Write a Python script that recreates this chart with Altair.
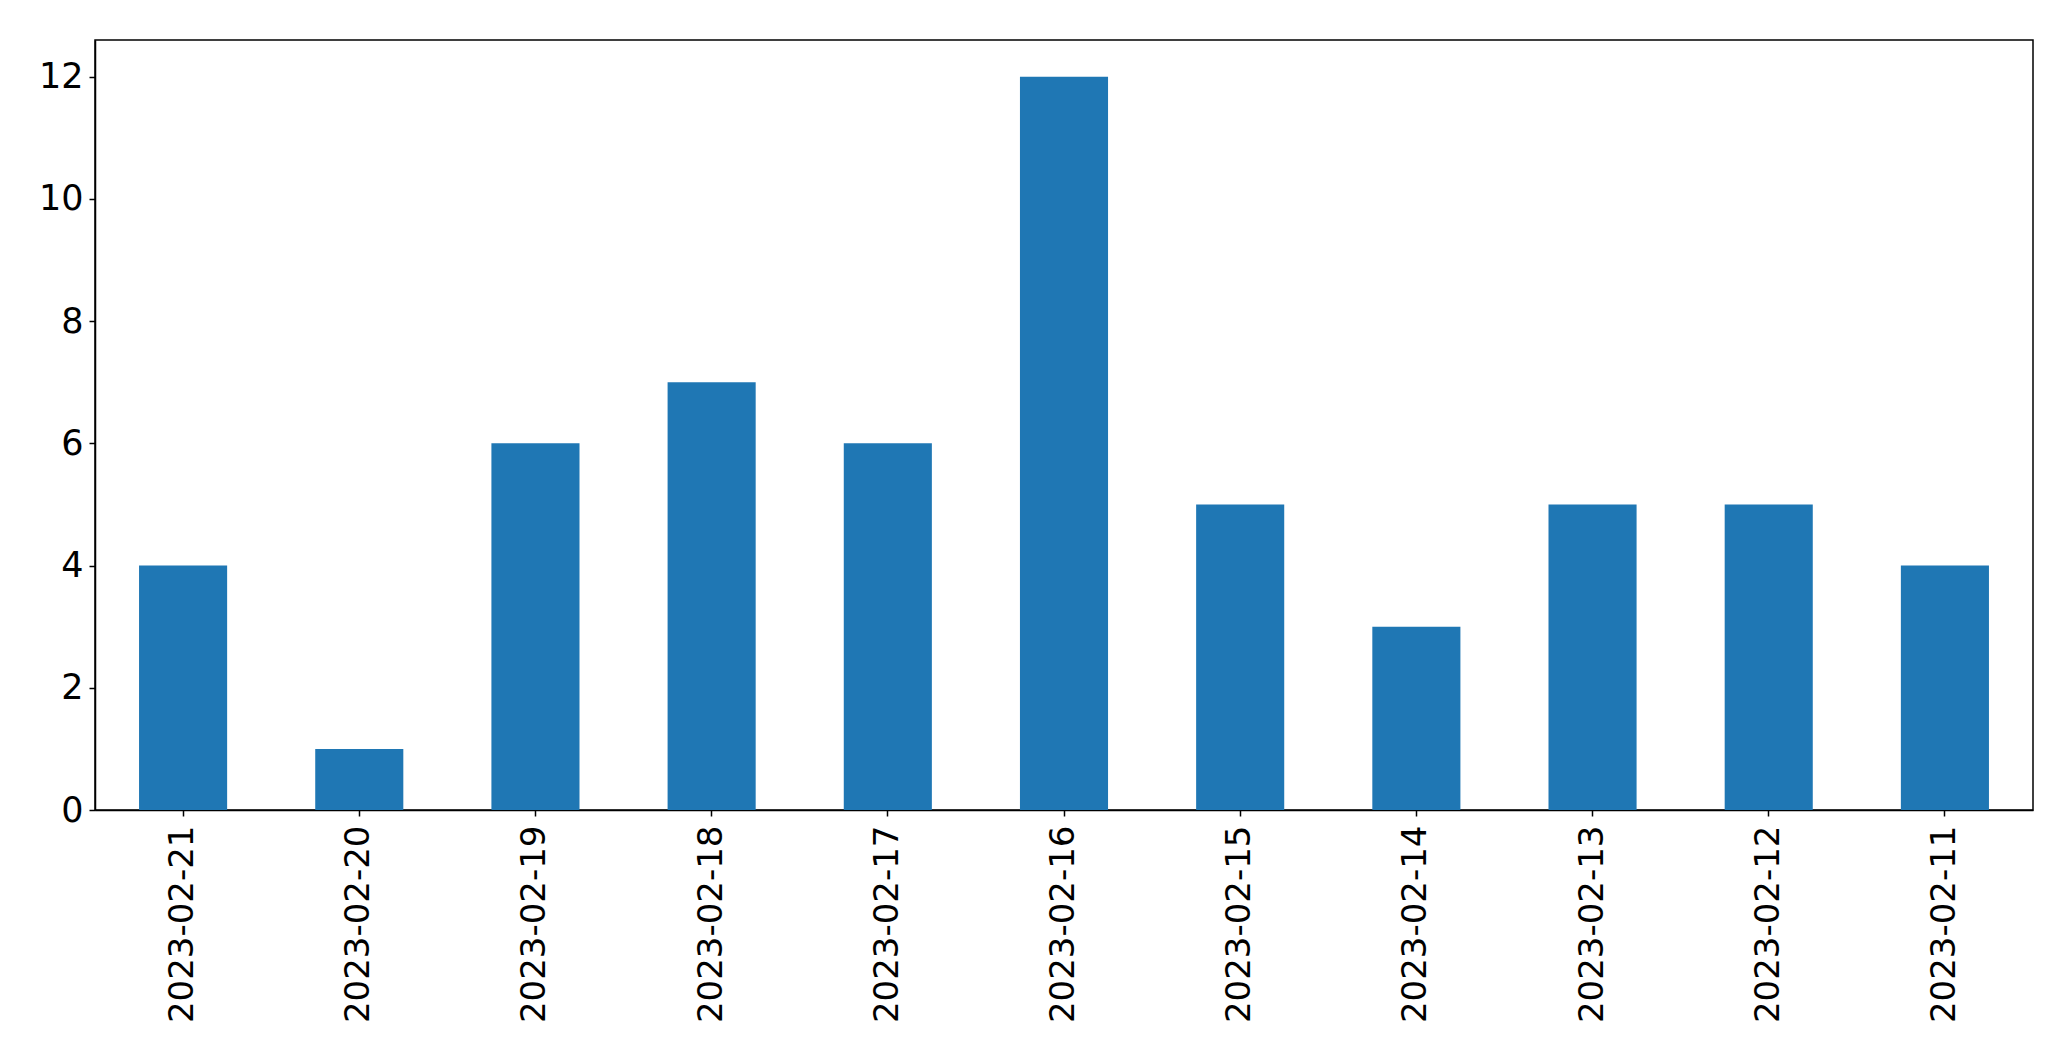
import altair as alt
import pandas as pd

dates = ["2023-02-21", "2023-02-20", "2023-02-19", "2023-02-18", "2023-02-17",
         "2023-02-16", "2023-02-15", "2023-02-14", "2023-02-13", "2023-02-12",
         "2023-02-11"]
counts = [4, 1, 6, 7, 6, 12, 5, 3, 5, 5, 4]
y_ticks = [0, 2, 4, 6, 8, 10, 12]

df = pd.DataFrame({"date": dates, "count": counts})

chart = alt.Chart(df).mark_bar(color="#1f77b4").encode(
    x=alt.X("date:N", sort=dates, title=None,
            scale=alt.Scale(paddingInner=0.5, paddingOuter=0.25),
            axis=alt.Axis(labelAngle=-90, labelFontSize=34, labelFont="DejaVu Sans",
                          labelColor="black", tickColor="black", tickSize=6,
                          tickWidth=1.5, domainColor="black", domainWidth=1.5,
                          labelPadding=9, grid=False, labelBaseline="middle",
                          labelAlign="right", labelLimit=0)),
    y=alt.Y("count:Q", title=None,
            scale=alt.Scale(domain=[0, 12.6], nice=False),
            axis=alt.Axis(values=y_ticks, labelFontSize=35, labelFont="DejaVu Sans",
                          labelColor="black", tickColor="black", tickSize=6,
                          tickWidth=1.5, domainColor="black", domainWidth=1.5,
                          labelPadding=6, grid=False)),
).properties(
    width=1938, height=770,
    autosize=alt.AutoSizeParams(type="none"),
    padding={"left": 87, "top": 32, "right": 20, "bottom": 230},
).configure_view(stroke="black", strokeWidth=1.5)

chart.save("out.html", embed_options={"renderer": "svg", "actions": False})
